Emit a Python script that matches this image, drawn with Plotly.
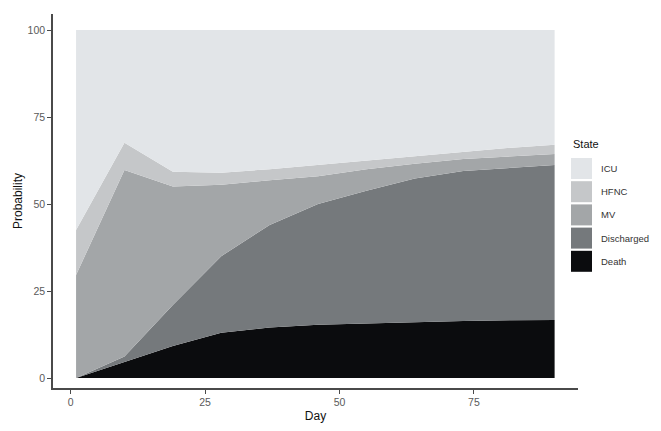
import plotly.graph_objects as go

days = [1, 10, 19, 28, 37, 46, 55, 64, 73, 82, 90]
states = ["ICU", "HFNC", "MV", "Discharged", "Death"]
death = [0, 4.7, 9.2, 13.0, 14.5, 15.3, 15.7, 16.1, 16.4, 16.6, 16.7]
discharged = [0, 1.5, 11.8, 22.0, 29.5, 34.7, 38.1, 41.2, 43.1, 43.9, 44.5]
mv = [29.6, 53.6, 34.0, 20.5, 12.8, 8.0, 6.2, 4.3, 3.4, 3.3, 3.2]
hfnc = [12.9, 7.8, 4.3, 3.5, 3.2, 3.2, 2.5, 2.2, 2.1, 2.4, 2.6]
icu = [57.5, 32.4, 40.7, 41.0, 40.0, 38.8, 37.5, 36.2, 35.0, 33.8, 33.0]
colors = {"ICU": "#e2e5e8", "HFNC": "#c5c7c9", "MV": "#a3a6a8",
          "Discharged": "#75797c", "Death": "#0b0c0e"}
values = {"ICU": icu, "HFNC": hfnc, "MV": mv, "Discharged": discharged, "Death": death}
x_ticks = [0, 25, 50, 75]
y_ticks = [0, 25, 50, 75, 100]

fig = go.Figure()
for s in ["Death", "Discharged", "MV", "HFNC", "ICU"]:
    fig.add_trace(go.Scatter(x=days, y=values[s], name=s, stackgroup="one",
                             mode="lines", line=dict(width=0, color=colors[s]),
                             fillcolor=colors[s], showlegend=False))

L, R, T, B = 53, 578, 14, 388
W, H = 661, 431
def px(x):
    return (x - L) / (R - L)
def py(y):
    return (B - y) / (B - T)

shapes = []
annotations = [dict(text="State", x=px(571), y=py(144), xref="paper", yref="paper",
                    xanchor="left", yanchor="middle", showarrow=False,
                    font=dict(size=11, color="#111111"))]
for i, s in enumerate(states):
    y0 = 158 + i * 23.2
    shapes.append(dict(type="rect", xref="paper", yref="paper",
                       x0=px(571), x1=px(592), y0=py(y0), y1=py(y0 + 21),
                       fillcolor=colors[s], line=dict(width=0)))
    annotations.append(dict(text=s, x=px(599), y=py(y0 + 10.5), xref="paper", yref="paper",
                            xanchor="left", yanchor="middle", showarrow=False,
                            font=dict(size=9.5, color="#333333")))

fig.update_layout(
    width=W, height=H,
    margin=dict(l=L, r=W - R, t=T, b=H - B, autoexpand=False),
    paper_bgcolor="white", plot_bgcolor="white",
    font=dict(family="Liberation Sans, Arial, sans-serif"),
    shapes=shapes, annotations=annotations,
    xaxis=dict(range=[-3.29, 94.35], tickvals=x_ticks, ticks="outside", ticklen=4,
               tickcolor="#4a4a4a", tickwidth=1, showline=True, linecolor="#4a4a4a",
               linewidth=1.6, showgrid=False, zeroline=False, automargin=False,
               tickfont=dict(size=10.5, color="#5a5a5a"),
               title=dict(text="Day", font=dict(size=12, color="#111111"), standoff=4)),
    yaxis=dict(range=[-2.87, 104.6], tickvals=y_ticks, ticks="outside", ticklen=4,
               tickcolor="#4a4a4a", tickwidth=1, showline=True, linecolor="#4a4a4a",
               linewidth=1.6, showgrid=False, zeroline=False, automargin=False,
               tickfont=dict(size=10.5, color="#5a5a5a"),
               title=dict(text="Probability", font=dict(size=12, color="#111111"), standoff=2)),
)
fig.write_html("out.html", config={"displayModeBar": False},
               post_script="document.body.style.margin='0';document.body.style.overflow='hidden';")
